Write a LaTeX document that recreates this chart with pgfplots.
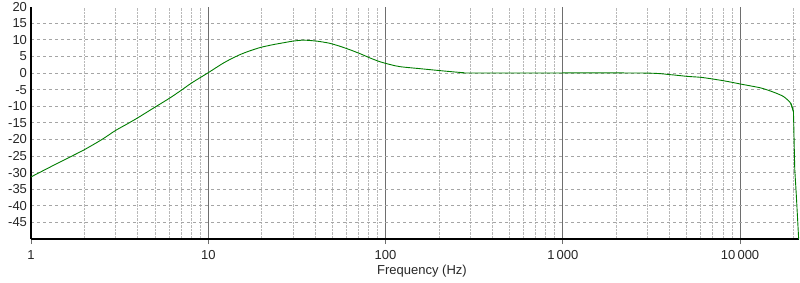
\documentclass[border=0pt]{standalone}
\usepackage{pgfplots}
\pgfplotsset{compat=1.18}
\usepackage{fontspec}
\setmainfont{Liberation Sans}
\definecolor{curve}{RGB}{0,125,0}
\definecolor{majgrid}{RGB}{110,110,110}
\definecolor{hgrid}{RGB}{165,165,165}
\definecolor{mingrid}{RGB}{185,185,185}
\begin{document}
\begin{tikzpicture}[x=1pt,y=1pt]
\useasboundingbox (0,0) rectangle (800,282);
\begin{axis}[
  at={(31pt,43pt)}, anchor=south west,
  scale only axis, width=768pt, height=232.4pt,
  xmode=log, log basis x=10,
  xmin=1, xmax=21500, ymin=-50, ymax=20,
  axis x line=bottom, axis y line=left,
  axis line style={-, line width=1.5pt, black},
  xtick={1,10,100,1000,10000},
  xticklabels={1,10,100,1\,000,10\,000},
  ytick={-45,-40,...,15},
  extra y ticks={20},
  extra y tick style={grid=none},
  minor xtick={2,3,4,5,6,7,8,9,20,30,40,50,60,70,80,90,200,300,400,500,600,700,800,900,2000,3000,4000,5000,6000,7000,8000,9000,20000},
  xmajorgrids, xminorgrids, ymajorgrids,
  major x grid style={majgrid, line width=0.8pt},
  minor x grid style={mingrid, densely dotted, line width=0.6pt},
  major y grid style={hgrid, dashed, line width=0.7pt},
  x tick style={majgrid, line width=0.8pt},
  major tick length=5pt,
  minor x tick style={draw=none},
  y tick style={draw=none},
  xtick align=outside,
  tick label style={font=\fontsize{13}{15}\selectfont, text=black!85},
  yticklabel style={xshift=2pt},
  xticklabel style={yshift=-3pt},
  /pgf/number format/assume math mode=true,
  xlabel={Frequency (Hz)},
  xlabel style={font=\fontsize{13}{15}\selectfont, text=black!85, yshift=2pt, xshift=7pt},
  clip=true,
]
\addplot[curve, line width=0.9pt, smooth, tension=0.4] coordinates {
(1,-31.3) (1.41,-27.2) (1.66,-25.3) (2,-23.1) (2.5,-20.1) (3,-17.3) (3.5,-15.3) (4,-13.5)
(5,-10.3) (6,-7.7) (7,-5.3) (8,-3.1) (9,-1.4) (10,0.1) (12,2.8) (13.5,4.3) (15.2,5.6) (17,6.6)
(19.7,7.7) (23,8.5) (26.5,9.1) (30,9.6) (34.5,9.9) (41,9.6) (48,9.0) (55,8.1)
(63,7.0) (72,5.8) (82,4.5) (93,3.4) (107,2.5) (121,1.9) (157,1.3) (224,0.5)
(275,0.1) (320,0) (2750,0) (4040,-0.5) (5000,-1.0) (6000,-1.3) (7000,-1.8) (8000,-2.3)
(9000,-2.8) (10000,-3.3) (13100,-4.5) (15500,-5.8) (17600,-7.1) (19300,-9.1)
(20000,-11.6)
};
\addplot[curve, line width=0.9pt] coordinates {
(19300,-9.1) (20000,-11.6) (20070,-15) (20340,-29) (20720,-36) (21160,-45) (21400,-50)
};
\end{axis}
\end{tikzpicture}
\end{document}
